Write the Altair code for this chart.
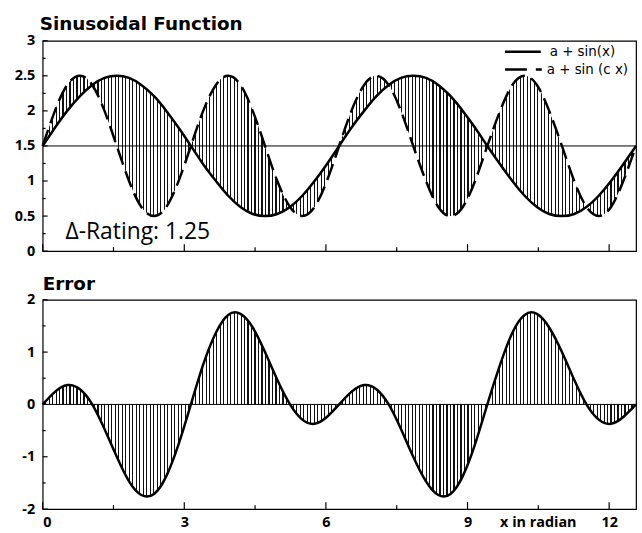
import altair as alt
import pandas as pd

# ---- data ----
X = [0.00, 0.26, 0.52, 0.79, 1.05, 1.31, 1.57, 1.83, 2.09, 2.36, 2.62, 2.88,
     3.14, 3.40, 3.67, 3.93, 4.19, 4.45, 4.71, 4.97, 5.24, 5.50, 5.76, 6.02,
     6.28, 6.54, 6.81, 7.07, 7.33, 7.59, 7.85, 8.12, 8.38, 8.64, 8.90, 9.16,
     9.42, 9.69, 9.95, 10.21, 10.47, 10.73, 11.00, 11.26, 11.52, 11.78, 12.04, 12.30,
     12.57]
SIN_X = [1.50, 1.76, 2.00, 2.21, 2.37, 2.47, 2.50, 2.47, 2.37, 2.21, 2.00, 1.76,
         1.50, 1.24, 1.00, 0.79, 0.63, 0.53, 0.50, 0.53, 0.63, 0.79, 1.00, 1.24,
         1.50, 1.76, 2.00, 2.21, 2.37, 2.47, 2.50, 2.47, 2.37, 2.21, 2.00, 1.76,
         1.50, 1.24, 1.00, 0.79, 0.63, 0.53, 0.50, 0.53, 0.63, 0.79, 1.00, 1.24,
         1.50]
SIN_CX = [1.50, 2.00, 2.37, 2.50, 2.37, 2.00, 1.50, 1.00, 0.63, 0.50, 0.63, 1.00,
          1.50, 2.00, 2.37, 2.50, 2.37, 2.00, 1.50, 1.00, 0.63, 0.50, 0.63, 1.00,
          1.50, 2.00, 2.37, 2.50, 2.37, 2.00, 1.50, 1.00, 0.63, 0.50, 0.63, 1.00,
          1.50, 2.00, 2.37, 2.50, 2.37, 2.00, 1.50, 1.00, 0.63, 0.50, 0.63, 1.00,
          1.50]
ERROR = [0.00, 0.24, 0.37, 0.29, 0.00, -0.47, -1.00, -1.47, -1.73, -1.71, -1.37, -0.76,
         0.00, 0.76, 1.37, 1.71, 1.73, 1.47, 1.00, 0.47, 0.00, -0.29, -0.37, -0.24,
         0.00, 0.24, 0.37, 0.29, 0.00, -0.47, -1.00, -1.47, -1.73, -1.71, -1.37, -0.76,
         0.00, 0.76, 1.37, 1.71, 1.73, 1.47, 1.00, 0.47, 0.00, -0.29, -0.37, -0.24,
         0.00]

X_TICKS_MAJOR = [0, 3, 6, 9, 12]
X_TICKS_MINOR = [1.5, 4.5, 7.5, 10.5]
Y1_TICKS_MAJOR = [0, 0.5, 1, 1.5, 2, 2.5, 3]
Y1_TICKS_MINOR = [0.25, 0.75, 1.25, 1.75, 2.25, 2.75]
Y2_TICKS_MAJOR = [-2, -1, 0, 1, 2]
Y2_TICKS_MINOR = [-1.5, -0.5, 0.5, 1.5]
LEGEND = ["a + sin(x)", "a + sin (c x)"]
TITLE_TOP = "Sinusoidal Function"
TITLE_BOTTOM = "Error"
RATING = "\u0394-Rating: 1.25"
X_LABEL = "x in radian"
BASE_TOP = 1.5
BASE_BOTTOM = 0
X_DOMAIN = [0, 12.57]
Y1_DOMAIN = [0, 3]
Y2_DOMAIN = [-2, 2]

# ---- style ----
W, H1, H2 = 598, 212, 211
FONT = "Open Sans"
TFONT = "DejaVu Sans"
LW = 2.5
DASH = [17, 7]

df = pd.DataFrame({"x": X, "s": SIN_X, "c": SIN_CX, "e": ERROR})

# vertical hatch as a striped gradient
N = 170
stops = []
for i in range(N):
    a = i / N
    b = (i + 0.68) / N
    c = (i + 1) / N
    stops += [
        alt.GradientStop(color="rgba(255,255,255,0)", offset=a),
        alt.GradientStop(color="rgba(255,255,255,0)", offset=b),
        alt.GradientStop(color="#111111", offset=b),
        alt.GradientStop(color="#111111", offset=c),
    ]
hatch = alt.Gradient(gradient="linear", stops=stops, x1=0, x2=1, y1=0, y2=0)

xs = alt.Scale(domain=X_DOMAIN, nice=False, zero=False)
y1s = alt.Scale(domain=Y1_DOMAIN, nice=False)
y2s = alt.Scale(domain=Y2_DOMAIN, nice=False)

lab = dict(labelFont=FONT, labelFontWeight="bold", labelFontSize=14.5,
           labelColor="black", ticks=False, domain=False, grid=False, title=None,
           labelExpr="'' + datum.value")
y1axis = alt.Axis(values=Y1_TICKS_MAJOR, labelPadding=8, **lab)
y2axis = alt.Axis(values=Y2_TICKS_MAJOR, labelPadding=8, **lab)
x2axis = alt.Axis(values=X_TICKS_MAJOR, labelPadding=7, **lab)

# per-panel encodings (same axis on every layer so they merge into one)
PANEL = {
    "top": dict(xaxis=None, yscale=y1s, yaxis=y1axis, h=H1),
    "bot": dict(xaxis=x2axis, yscale=y2s, yaxis=y2axis, h=H2),
}


def X_(field, p):
    return alt.X(field, scale=xs, axis=PANEL[p]["xaxis"])


def Y_(field, p):
    return alt.Y(field, scale=PANEL[p]["yscale"], axis=PANEL[p]["yaxis"])


def one(v):
    return pd.DataFrame({"t": [v]})


def text(v, x, y, size, weight="normal", align="left", baseline="alphabetic", font=FONT):
    return alt.Chart(one(v)).mark_text(
        align=align, baseline=baseline, font=font, fontSize=size,
        fontWeight=weight, color="black"
    ).encode(x=alt.value(x), y=alt.value(y), text="t:N")


def xticks(vals, p, length):
    h = PANEL[p]["h"]
    return alt.Chart(pd.DataFrame({"t": vals})).mark_rule(color="black", strokeWidth=1.2).encode(
        x=X_("t:Q", p), y=alt.value(h), y2=alt.value(h - length))


def yticks(vals, p, length):
    return alt.Chart(pd.DataFrame({"t": vals})).mark_rule(color="black", strokeWidth=1.2).encode(
        y=Y_("t:Q", p), x=alt.value(0), x2=alt.value(length))


base = alt.Chart(df)

# ---------- top panel ----------
top_area = base.mark_area(fill=hatch, interpolate="natural").encode(
    x=X_("x:Q", "top"), y=Y_("s:Q", "top"), y2="c:Q")
top_h = alt.Chart(pd.DataFrame({"y": [BASE_TOP]})).mark_rule(color="black", strokeWidth=1).encode(
    y=Y_("y:Q", "top"))
line_s = base.mark_line(color="black", strokeWidth=LW, interpolate="natural").encode(
    x=X_("x:Q", "top"), y=Y_("s:Q", "top"))
line_c = base.mark_line(color="black", strokeWidth=LW, strokeDash=DASH, interpolate="natural").encode(
    x=X_("x:Q", "top"), y=Y_("c:Q", "top"))

leg1 = alt.Chart(one(LEGEND[0])).mark_rule(color="black", strokeWidth=LW).encode(
    x=alt.value(466), x2=alt.value(502), y=alt.value(11))
leg2 = alt.Chart(one(LEGEND[1])).mark_rule(color="black", strokeWidth=LW, strokeDash=[22, 9, 6, 9]).encode(
    x=alt.value(466), x2=alt.value(503), y=alt.value(29))
leg1t = text(LEGEND[0], 511, 11, 13.5, baseline="middle", font=TFONT)
leg2t = text(LEGEND[1], 508, 29, 13.5, baseline="middle", font=TFONT)

anchor_top = alt.Chart(one("")).mark_rule(strokeOpacity=0, color="white").encode(
    x=alt.value(-42), x2=alt.value(W + 2), y=alt.value(-38))

top = alt.layer(
    top_area, top_h, line_s, line_c,
    xticks(X_TICKS_MAJOR, "top", 7), xticks(X_TICKS_MINOR, "top", 4),
    yticks(Y1_TICKS_MAJOR, "top", 5), yticks(Y1_TICKS_MINOR, "top", 3),
    text(TITLE_TOP, -3, -11, 18.5, weight="bold", font=TFONT),
    text(RATING, 23, 200, 23),
    leg1, leg2, leg1t, leg2t, anchor_top,
).properties(width=W, height=H1)

# ---------- bottom panel ----------
bot_area = base.mark_area(fill=hatch, interpolate="natural").encode(
    x=X_("x:Q", "bot"), y=Y_("e:Q", "bot"), y2=alt.datum(BASE_BOTTOM))
bot_h = alt.Chart(pd.DataFrame({"y": [BASE_BOTTOM]})).mark_rule(color="black", strokeWidth=1).encode(
    y=Y_("y:Q", "bot"))
line_e = base.mark_line(color="black", strokeWidth=LW, interpolate="natural").encode(
    x=X_("x:Q", "bot"), y=Y_("e:Q", "bot"))

anchor_bot = alt.Chart(one("")).mark_rule(strokeOpacity=0, color="white").encode(
    x=alt.value(-42), x2=alt.value(W + 2), y=alt.value(H2 + 23))

bottom = alt.layer(
    bot_area, bot_h, line_e,
    xticks(X_TICKS_MAJOR, "bot", 7), xticks(X_TICKS_MINOR, "bot", 4),
    yticks(Y2_TICKS_MAJOR, "bot", 5), yticks(Y2_TICKS_MINOR, "bot", 3),
    text(TITLE_BOTTOM, 0, -10, 18.5, weight="bold", font=TFONT),
    text(X_LABEL, 461, H2 + 18, 14.5, weight="bold"),
    anchor_bot,
).properties(width=W, height=H2)

chart = alt.vconcat(top, bottom, spacing=49, bounds="flush").properties(
    padding=0, background="white"
).configure_view(stroke="black", strokeWidth=1.2)

chart.save("out.html", embed_options={"renderer": "svg", "actions": False})
